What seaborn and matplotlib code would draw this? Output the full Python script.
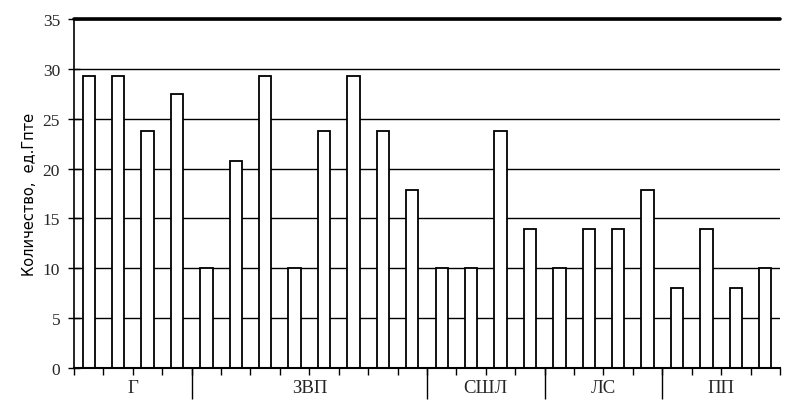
import seaborn as sns
import matplotlib.pyplot as plt
import pandas as pd
import numpy as np

sns.set_style("white")
plt.rcParams['font.family'] = ['Liberation Serif', 'DejaVu Serif']

# data
groups = ["Г", "ЗВП", "СШЛ", "ЛС", "ПП"]
g_vals = [29.3, 29.3, 23.8, 27.5]
zvp_vals = [10, 20.8, 29.3, 10, 23.8, 29.3, 23.8, 17.9]
sshl_vals = [10, 10, 23.8, 13.9]
ls_vals = [10, 13.9, 13.9, 17.9]
pp_vals = [8, 13.9, 8, 10]

all_vals = [g_vals, zvp_vals, sshl_vals, ls_vals, pp_vals]
rows = []
for g, vals in zip(groups, all_vals):
    for i, v in enumerate(vals):
        rows.append({"Group": g, "Item": f"{g}{i + 1}", "Value": v})
df = pd.DataFrame(rows)
n = len(df)

fig = plt.figure(figsize=(7.93, 4.14), dpi=100)
ax = fig.add_axes([0.0933, 0.1087, 0.8903, 0.843])

sns.barplot(data=df, x="Item", y="Value", order=df["Item"], color="white",
            edgecolor="black", linewidth=1.3, width=0.42, saturation=1, ax=ax)

ax.set_xlim(-0.5, n - 0.5)
ax.set_ylim(0, 35)
ax.set_yticks(np.arange(0, 36, 5))
ax.yaxis.grid(True, color="black", linewidth=1)
ax.set_axisbelow(True)
ax.axhline(35, color="black", linewidth=2.6, clip_on=False)

for s in ["top", "right"]:
    ax.spines[s].set_visible(False)
ax.spines["left"].set_linewidth(1.2)
ax.spines["bottom"].set_linewidth(1.5)
ax.spines["left"].set_color("black")
ax.spines["bottom"].set_color("black")

# slot boundary ticks
ax.set_xticks(np.arange(-0.5, n, 1))
ax.set_xticklabels([])
ax.tick_params(axis="x", direction="out", length=5, width=1, color="black", bottom=True)
ax.tick_params(axis="y", direction="inout", length=8, width=1, color="black", left=True,
               labelsize=12.5, pad=6)

# group separators and labels
sizes = [len(v) for v in all_vals]
edges = np.cumsum([0] + sizes) - 0.5
trans = ax.get_xaxis_transform()
ax.vlines(edges[1:-1], 0, -0.088, transform=trans, color="black", linewidth=1, clip_on=False)
for g, a, b in zip(groups, edges[:-1], edges[1:]):
    ax.text((a + b) / 2, -0.055, g, transform=trans, ha="center", va="center", fontsize=13.5)

ax.set_xlabel("")
ax.set_ylabel("Количество,  ед.Гпте", fontsize=10.5, family=["DejaVu Sans"],
              color="black", labelpad=4)

plt.savefig("out.png", dpi=100)
plt.close()
